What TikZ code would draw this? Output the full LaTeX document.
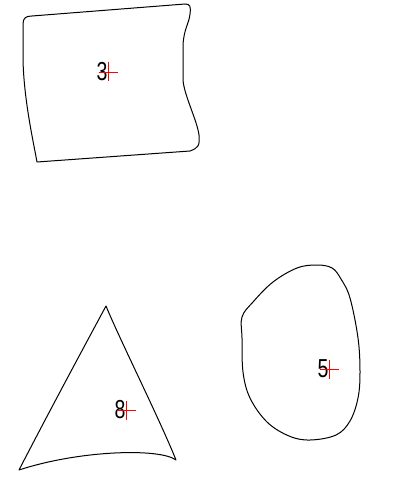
\documentclass[tikz,border=0pt]{standalone}
\usepackage{fontspec}
\setmainfont{Liberation Sans}
\usetikzlibrary{positioning}

\begin{document}
\begin{tikzpicture}[
    x=1pt,
    y=-1pt,
    line join=round
]


\tikzstyle{outline}=[
    draw=black,
    line width=1pt
]
\tikzstyle{lbl}=[
    inner sep=0.5pt,
    font=\fontsize{26}{26}\selectfont,
    xscale=0.75
]
\tikzstyle{crossline}=[
    draw=red,
    line width=0.9pt
]

\useasboundingbox (0,0) rectangle (400,492);


\draw[outline] (23,24) .. controls (23,18) and (26,16) .. (32,16) -- (185,4)
    .. controls (190,4) and (191,6) .. (190,14)
    .. controls (189,24) and (184,28) .. (183,45) -- (183,80)
    .. controls (184,95) and (197,120) .. (199,135)
    .. controls (200,146) and (198,148) .. (190,151) -- (37,162)
    .. controls (33,140) and (24,100) .. (23,60) -- cycle;


\draw[outline] (106,306) .. controls (120,340) and (160,420) .. (176,460)
    .. controls (160,448) and (80,450) .. (19,470)
    .. controls (50,410) and (85,345) .. (106,306) -- cycle;


\draw[outline] plot[smooth cycle, tension=0.6] coordinates {
    (242,317) (253,302) (273,282) (297,268) (317,265) (332,268) (341,279)
    (350,298) (358,338) (360,372) (358,398) (350,421) (336,435) (310,440)
    (289,436) (267,422) (250,398) (243,372) (242,338)};


\coordinate (c3) at (108,72);
\coordinate (c8) at (126,410);
\coordinate (c5) at (329,369);

\node[lbl, left=0pt of c3] (n3) {3};
\node[lbl, left=0pt of c8] (n8) {8};
\node[lbl, left=0pt of c5] (n5) {5};

\foreach \c in {c3,c8,c5} {
    \draw[crossline] ([xshift=-9.5pt]\c) -- ([xshift=9.5pt]\c);
    \draw[crossline] ([yshift=-9.5pt]\c) -- ([yshift=9.5pt]\c);
}

\end{tikzpicture}
\end{document}
